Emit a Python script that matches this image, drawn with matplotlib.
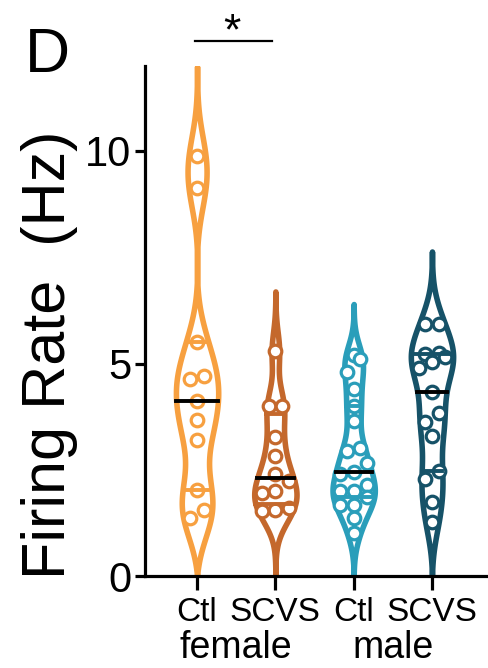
import numpy as np
import matplotlib
matplotlib.use("Agg")
import matplotlib.pyplot as plt
import matplotlib.transforms as mtransforms

plt.rcParams['font.family'] = ['Liberation Sans', 'DejaVu Sans']

# データ (図から読み取った値, Hz)
groups = ['Ctl', 'SCVS', 'Ctl', 'SCVS']
sexes = ['female', 'male']
ctl_female = [9.88, 9.12, 5.50, 4.71, 4.63, 4.12, 3.67, 3.21, 2.03, 1.56, 1.37]
scvs_female = [5.30, 4.00, 4.00, 3.26, 2.82, 2.39, 2.23, 1.99, 1.96, 1.60, 1.56, 1.52]
ctl_male = [5.19, 5.10, 4.80, 4.40, 4.00, 3.65, 3.02, 2.93, 2.67, 2.45, 2.39,
            2.15, 1.99, 1.99, 1.87, 1.68, 1.68, 1.37, 1.02]
scvs_male = [5.93, 5.93, 5.25, 5.22, 5.15, 5.03, 4.90, 4.33, 3.83, 3.62, 3.29,
             2.48, 2.28, 1.75, 1.28]
series = [ctl_female, scvs_female, ctl_male, scvs_male]
colors = ['#F7A040', '#C4682C', '#2A9EBA', '#165268']
bandwidths = [0.68, 0.45, 0.39, 0.55]
yticks = [0, 5, 10]
sig_pair = (0, 1)
sig_text = '*'

# スタイル
HALF_W = 0.27      # バイオリンの最大半幅 (カテゴリ単位)
DOT_D = 0.17       # 点の間隔 (カテゴリ単位)
ROW_H = 0.30       # 同じ行とみなす高さ (Hz)


def kde_outline(vals, bw, ext=3.1):
    """ガウスKDEでバイオリンの輪郭を作る"""
    v = np.asarray(vals)
    lo = max(0.0, v.min() - 1.15 * ext * bw)
    hi = v.max() + ext * bw
    y = np.linspace(lo, hi, 400)
    d = np.exp(-0.5 * ((y[:, None] - v[None, :]) / bw) ** 2).sum(axis=1)
    base = np.interp(y, [lo, hi], [d[0], d[-1]])
    d = np.clip(d - base, 0, None)
    return y, d / d.max() * HALF_W


def swarm_offsets(vals):
    """行ごとに点を左右に並べる"""
    v = np.asarray(vals)
    order = np.argsort(v)
    offs = np.zeros(len(v))
    rows, cur = [], [order[0]]
    for i in order[1:]:
        if v[i] - v[cur[0]] < ROW_H:
            cur.append(i)
        else:
            rows.append(cur)
            cur = [i]
    rows.append(cur)
    for r in rows:
        n = len(r)
        for k, i in enumerate(r):
            offs[i] = (k - (n - 1) / 2) * DOT_D
    return offs


fig = plt.figure(figsize=(4.89, 6.68), dpi=100)
ax = fig.add_axes([145 / 489, 92 / 668, 341 / 489, 510 / 668])

for pos, (vals, col, bw) in enumerate(zip(series, colors, bandwidths)):
    y, w = kde_outline(vals, bw)
    ax.fill_betweenx(y, pos - w, pos + w, facecolor='white', edgecolor=col,
                     linewidth=4.0, zorder=2)
    q1, med, q3 = np.percentile(vals, [25, 50, 75], method='weibull')
    offs = swarm_offsets(vals)
    ax.scatter(pos + offs, vals, s=82, facecolor='white', edgecolor=col,
               linewidth=2.3, zorder=3)
    for q in (q1, q3):
        hw = np.interp(q, y, w)
        ax.plot([pos - hw, pos + hw], [q, q], color=col, lw=2.8, zorder=3.5)
    hw = np.interp(med, y, w)
    ax.plot([pos - hw, pos + hw], [med, med], color='black', lw=2.8, zorder=4)

ax.set_xlim(-0.665, 3.69)
ax.set_ylim(0, 12)
ax.set_yticks(yticks)
ax.set_xticks(range(len(groups)))
ax.set_xticklabels(groups)
for s in ('top', 'right'):
    ax.spines[s].set_visible(False)
for s in ('left', 'bottom'):
    ax.spines[s].set_linewidth(2.3)
ax.tick_params(axis='y', length=7, width=2.3, labelsize=30, pad=3)
ax.tick_params(axis='x', length=10, width=2.3, labelsize=24, pad=5)

# 性別ラベル
trans = mtransforms.blended_transform_factory(ax.transData, ax.transAxes)
for k, sx in enumerate(sexes):
    ax.text(2 * k + 0.5, -0.161, sx, transform=trans, ha='center',
            va='baseline', fontsize=27)

# 有意差
a, b = sig_pair
ax.plot([a - 0.03, b - 0.04], [12.6, 12.6], color='black', lw=1.6,
        clip_on=False)
ax.text((a + b) / 2 - 0.05, 12.3, sig_text, ha='center', va='bottom',
        fontsize=32)

fig.text(50 / 489, 0.469, 'Firing Rate  (Hz)', rotation=90, ha='center',
         va='center', fontsize=44)
fig.text(25 / 489, 1 - 72 / 668, 'D', fontsize=45, ha='left', va='baseline')

fig.savefig('out.png', dpi=100)
